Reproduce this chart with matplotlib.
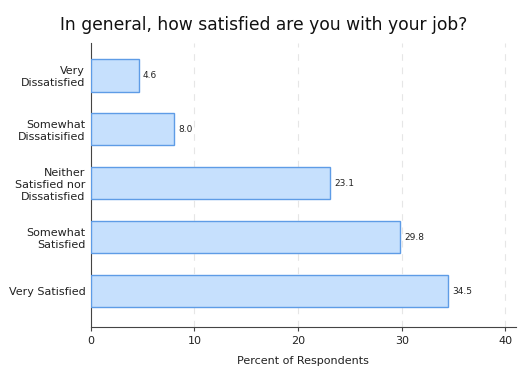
import matplotlib
matplotlib.use('Agg')
import matplotlib.pyplot as plt

categories = ['Very\nDissatisfied', 'Somewhat\nDissatisified',
              'Neither\nSatisfied nor\nDissatisfied', 'Somewhat\nSatisfied',
              'Very Satisfied']
percents = [4.6, 8.0, 23.1, 29.8, 34.5]
xticks = [0, 10, 20, 30, 40]

fig = plt.figure(figsize=(5.28, 3.84), dpi=100)
ax = fig.add_axes([0.172, 0.148, 0.805, 0.74])

pos = list(range(len(categories)))
ax.barh(pos, percents, height=0.6, color='#c6e0fd', edgecolor='#5e9ce6',
        linewidth=1.0, zorder=3)
for p, v in zip(pos, percents):
    ax.text(v + 0.4, p, f'{v:.1f}', va='center', ha='left', fontsize=6.5,
            color='#222222')

ax.set_yticks(pos)
ax.set_yticklabels(categories, fontsize=8, color='#222222')
ax.set_ylim(4.67, -0.6)
ax.set_xlim(0, 41)
ax.set_xticks(xticks)
ax.set_xticklabels([str(t) for t in xticks], fontsize=8, color='#222222')
ax.tick_params(axis='y', length=0, pad=4)
ax.tick_params(axis='x', length=3, color='#444444')
ax.xaxis.grid(True, linestyle=(0, (6, 6)), color='#e6e6e6', linewidth=0.8, zorder=0)

for s in ['top', 'right']:
    ax.spines[s].set_visible(False)
for s in ['left', 'bottom']:
    ax.spines[s].set_color('#444444')
    ax.spines[s].set_linewidth(0.8)

ax.set_xlabel('Percent of Respondents', fontsize=8, color='#222222', labelpad=7)
fig.suptitle('In general, how satisfied are you with your job?', fontsize=12.3,
             x=0.5, y=0.958, va='top', color='#111111')

fig.savefig('out.png', dpi=100)
